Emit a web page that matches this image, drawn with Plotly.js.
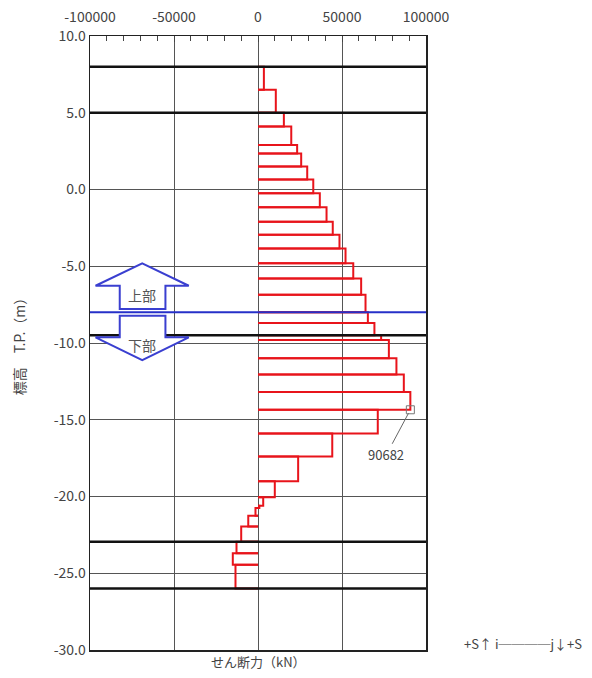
<!DOCTYPE html>
<html>
<head>
<meta charset="utf-8">
<script src="https://cdn.plot.ly/plotly-3.0.1.min.js"></script>
<style>html,body{margin:0;padding:0;background:#fff;}#chart{width:592px;height:678px;}</style>
</head>
<body>
<div id="chart"></div>
<script>
// Segment boundaries (elevation T.P. m), top to bottom
const boundaries = [8.0, 6.5, 5.0, 4.1, 2.9, 2.35, 1.5, 0.65, -0.25, -1.15, -2.1, -2.95, -3.85, -4.8, -5.8, -6.85, -8.0, -8.7, -9.5, -9.8, -11.0, -12.05, -13.2, -14.35, -15.9, -17.4, -19.0, -20.05, -20.6, -20.75, -21.25, -21.95, -22.95, -23.7, -24.45, -26.0];
// Shear force per segment (kN)
const shear = [3500, 10600, 15400, 19800, 23300, 25700, 29300, 32900, 36800, 40800, 44500, 48500, 52100, 56700, 61400, 64000, 65400, 69300, 73300, 77900, 82400, 86800, 90682, 71300, 44200, 23900, 10000, 3100, 800, -1500, -5800, -10000, -12800, -15000, -13400];
// Max value marker
const maxValue = [90682];
const maxElev = [-14.35];
// Layer boundary lines
const layerLines = [8.0, 5.0, -9.5, -22.95, -26.0];
const divideLine = [-8.0];
// Tick labels
const xTickVals = [-100000, -50000, 0, 50000, 100000];
const xTickText = ['-100000', '-50000', '0', '50000', '100000'];
const yTickVals = [10, 5, 0, -5, -10, -15, -20, -25, -30];
const yTickText = ['10.0', '5.0', '0.0', '-5.0', '-10.0', '-15.0', '-20.0', '-25.0', '-30.0'];

const FONT = '"Noto Sans CJK JP", "Noto Sans", sans-serif';
const TXT = '#444';

// Build step outline path from data
const px = [], py = [];
for (let i = 0; i < shear.length; i++) {
  const top = boundaries[i], bot = boundaries[i + 1], v = shear[i];
  px.push(0, v, v, 0, null);
  py.push(top, top, bot, bot, null);
}

const traces = [
  {x: px, y: py, type: 'scatter', mode: 'lines', line: {color: '#e8141b', width: 2}, hoverinfo: 'skip', connectgaps: false},
  {x: maxValue, y: maxElev, type: 'scatter', mode: 'markers', marker: {symbol: 'square-open', size: 8, color: '#777', line: {width: 1}}, hoverinfo: 'skip'}
];

const shapes = [];
layerLines.forEach(v => shapes.push({type: 'line', xref: 'paper', x0: 0, x1: 1, yref: 'y', y0: v, y1: v, line: {color: '#111', width: 2.5}, layer: 'above'}));
divideLine.forEach(v => shapes.push({type: 'line', xref: 'paper', x0: 0, x1: 1, yref: 'y', y0: v, y1: v, line: {color: '#2630c8', width: 2}, layer: 'above'}));
// Block arrows (decoration)
shapes.push({type: 'path', xref: 'x', yref: 'y', layer: 'above',
  path: 'M -68900,-4.81 L -41200,-6.27 L -55100,-6.27 L -55100,-7.78 L -82300,-7.78 L -82300,-6.27 L -96700,-6.27 Z',
  fillcolor: '#fff', line: {color: '#3a3fd0', width: 2}});
shapes.push({type: 'path', xref: 'x', yref: 'y', layer: 'above',
  path: 'M -82300,-8.22 L -55100,-8.22 L -55100,-9.63 L -41200,-9.63 L -68900,-11.11 L -96700,-9.63 L -82300,-9.63 Z',
  fillcolor: '#fff', line: {color: '#3a3fd0', width: 2}});

const annotations = [
  {x: -68900, y: -6.9, xref: 'x', yref: 'y', text: '上部', showarrow: false, font: {family: FONT, size: 14, color: '#555'}},
  {x: -68900, y: -10.1, xref: 'x', yref: 'y', text: '下部', showarrow: false, font: {family: FONT, size: 14, color: '#555'}},
  {x: maxValue[0], y: maxElev[0], xref: 'x', yref: 'y', text: String(maxValue[0]), showarrow: true, arrowhead: 0, arrowwidth: 1, arrowcolor: '#666', ax: -24, ay: 45, standoff: 4, font: {family: FONT, size: 13, color: TXT}},
  {x: 0.5, y: -0.0195, xref: 'paper', yref: 'paper', xanchor: 'center', yanchor: 'middle', text: 'せん断力（kN）', showarrow: false, font: {family: FONT, size: 13, color: TXT}},
  {x: 1.29, y: 0.0098, xref: 'paper', yref: 'paper', xanchor: 'center', yanchor: 'middle', text: '+S↑ i────j↓+S', showarrow: false, font: {family: FONT, size: 13, color: TXT}}
];

const layout = {
  width: 592, height: 678,
  margin: {l: 90, r: 166, t: 36, b: 28},
  paper_bgcolor: '#fff', plot_bgcolor: '#fff',
  showlegend: false,
  font: {family: FONT, size: 14, color: TXT},
  xaxis: {
    side: 'top', range: [-100000, 100000], tickvals: xTickVals, ticktext: xTickText,
    showgrid: true, gridcolor: '#555', gridwidth: 1, zeroline: false,
    showline: true, mirror: true, linecolor: '#222', linewidth: 1.5,
    ticks: 'inside', ticklen: 6, tickcolor: '#444', ticklabelstandoff: 7,
    minor: {dtick: 10000, ticks: 'inside', ticklen: 5, tickcolor: '#444', showgrid: false},
    tickfont: {family: FONT, size: 14, color: TXT}, fixedrange: true
  },
  yaxis: {
    range: [-30, 10], tickvals: yTickVals, ticktext: yTickText,
    showgrid: true, gridcolor: '#555', gridwidth: 1, zeroline: false,
    showline: true, mirror: true, linecolor: '#222', linewidth: 1.5,
    ticks: '', tickfont: {family: FONT, size: 14, color: TXT},
    title: {text: '標高　T.P.（m）', font: {family: FONT, size: 14, color: TXT}, standoff: 24},
    fixedrange: true
  },
  shapes: shapes,
  annotations: annotations
};

Plotly.newPlot('chart', traces, layout, {displayModeBar: false, staticPlot: true});
</script>
</body>
</html>
